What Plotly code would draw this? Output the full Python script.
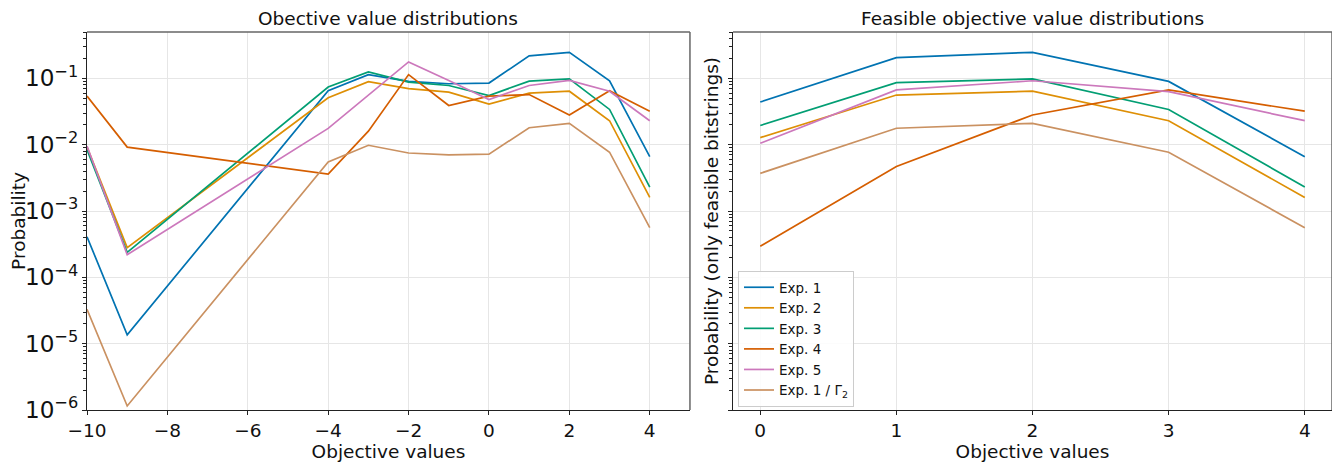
import plotly.graph_objects as go

# ---------------- data ----------------
x_all = [-10, -9, -4, -3, -2, -1, 0, 1, 2, 3, 4]
x_feas = [0, 1, 2, 3, 4]

names = ["Exp. 1", "Exp. 2", "Exp. 3", "Exp. 4", "Exp. 5", "Exp. 1 / Γ<sub>2</sub>"]
colors = ["#0173B2", "#DE8F05", "#029E73", "#D55E00", "#CC78BC", "#CA9161"]

exp1_all = [4.1e-4, 1.36e-5, 0.065, 0.114, 0.090, 0.083, 0.085, 0.218, 0.247, 0.092, 0.0066]
exp2_all = [9.2e-3, 2.8e-4, 0.051, 0.089, 0.070, 0.062, 0.041, 0.060, 0.064, 0.023, 0.0016]
exp3_all = [8.4e-3, 2.38e-4, 0.074, 0.125, 0.088, 0.078, 0.055, 0.091, 0.098, 0.034, 0.0023]
exp4_all = [0.054, 9.2e-3, 3.6e-3, 0.016, 0.114, 0.039, 0.054, 0.057, 0.028, 0.065, 0.032]
exp5_all = [9.5e-3, 2.2e-4, 0.0176, 0.055, 0.177, 0.093, 0.048, 0.078, 0.093, 0.064, 0.023]
exp1g_all = [3.3e-5, 1.15e-6, 5.5e-3, 9.8e-3, 7.5e-3, 7.0e-3, 7.2e-3, 0.018, 0.021, 7.7e-3, 5.6e-4]

exp1_feas = [0.044, 0.205, 0.247, 0.090, 0.0066]
exp2_feas = [0.0128, 0.056, 0.064, 0.023, 0.0016]
exp3_feas = [0.0195, 0.086, 0.098, 0.034, 0.0023]
exp4_feas = [2.95e-4, 0.0047, 0.028, 0.067, 0.032]
exp5_feas = [0.0105, 0.067, 0.092, 0.063, 0.023]
exp1g_feas = [0.0037, 0.0177, 0.021, 0.0077, 5.6e-4]

all_series = [exp1_all, exp2_all, exp3_all, exp4_all, exp5_all, exp1g_all]
feas_series = [exp1_feas, exp2_feas, exp3_feas, exp4_feas, exp5_feas, exp1g_feas]

x_ticks_left = [-10, -8, -6, -4, -2, 0, 2, 4]
x_ticks_right = [0, 1, 2, 3, 4]

# ---------------- figure ----------------
fig = go.Figure()
for n, c, ys in zip(names, colors, all_series):
    fig.add_trace(go.Scatter(x=x_all, y=ys, mode="lines", name=n, showlegend=False,
                             line=dict(color=c, width=1.7), xaxis="x", yaxis="y"))
for n, c, ys in zip(names, colors, feas_series):
    fig.add_trace(go.Scatter(x=x_feas, y=ys, mode="lines", name=n, showlegend=True,
                             line=dict(color=c, width=1.7), xaxis="x2", yaxis="y2"))

FONT = "DejaVu Sans"
grid = "#e6e6e6"
TICK = 18.5
LAB = 18.5
common_x = dict(showline=True, linecolor="#222", linewidth=1.2, ticks="outside",
                ticklen=4, tickcolor="#222", showgrid=True, gridcolor=grid, gridwidth=1,
                zeroline=False, automargin=False,
                tickfont=dict(size=TICK, family=FONT, color="#111"),
                title_font=dict(size=LAB, family=FONT, color="#111"))
common_y = dict(type="log", range=[-6, -0.301], dtick=1, exponentformat="power",
                showline=True, linecolor="#222", linewidth=1.2, ticks="outside",
                ticklen=4, tickcolor="#222", showgrid=True, gridcolor=grid, gridwidth=1,
                zeroline=False, automargin=False,
                tickfont=dict(size=TICK, family=FONT, color="#111"),
                title_font=dict(size=LAB, family=FONT, color="#111"),
                minor=dict(ticks="outside", ticklen=2.5, tickcolor="#222", dtick="D1",
                           showgrid=False))

d1 = [0.0, 0.4843]
d2 = [0.5189, 1.0]

# the page has an 8px body margin, so the figure is 8px smaller and margins shifted
fig.update_layout(
    width=1332, height=456,
    margin=dict(l=79, r=8, t=24, b=54),
    paper_bgcolor="white", plot_bgcolor="white",
    font=dict(family=FONT, color="#111"),
    xaxis=dict(domain=d1, range=[-10, 5], tickvals=x_ticks_left,
               title=dict(text="Objective values", standoff=2), anchor="y", **common_x),
    yaxis=dict(domain=[0, 1], anchor="x",
               title=dict(text="Probability", standoff=6), **common_y),
    xaxis2=dict(domain=d2, range=[-0.2, 4.2], tickvals=x_ticks_right,
                title=dict(text="Objective values", standoff=2), anchor="y2", **common_x),
    yaxis2=dict(domain=[0, 1], anchor="x2", showticklabels=False,
                title=dict(text="Probability (only feasible bitstrings)", standoff=4),
                **common_y),
    legend=dict(x=0.5229, y=0.008, xanchor="left", yanchor="bottom",
                bgcolor="rgba(255,255,255,0.85)", bordercolor="#cccccc", borderwidth=1,
                font=dict(size=13.5, family=FONT, color="#111"), tracegroupgap=0,
                itemwidth=30),
    annotations=[
        dict(text="Obective value distributions", x=(d1[0] + d1[1]) / 2, y=1.0,
             xref="paper", yref="paper", xanchor="center", yanchor="bottom", yshift=1,
             showarrow=False, font=dict(size=18.5, family=FONT, color="#111")),
        dict(text="Feasible objective value distributions", x=(d2[0] + d2[1]) / 2, y=1.0,
             xref="paper", yref="paper", xanchor="center", yanchor="bottom", yshift=1,
             showarrow=False, font=dict(size=18.5, family=FONT, color="#111")),
    ],
    shapes=[
        dict(type="line", xref="x domain", yref="y domain", x0=0, x1=1, y0=1, y1=1,
             line=dict(color="#666", width=1.5)),
        dict(type="line", xref="x domain", yref="y domain", x0=1, x1=1, y0=0, y1=1,
             line=dict(color="#666", width=1.5)),
        dict(type="line", xref="x2 domain", yref="y2 domain", x0=0, x1=1, y0=1, y1=1,
             line=dict(color="#666", width=1.5)),
        dict(type="line", xref="x2 domain", yref="y2 domain", x0=1, x1=1, y0=0, y1=1,
             line=dict(color="#666", width=1.5)),
    ],
)

fig.write_html("out.html")
